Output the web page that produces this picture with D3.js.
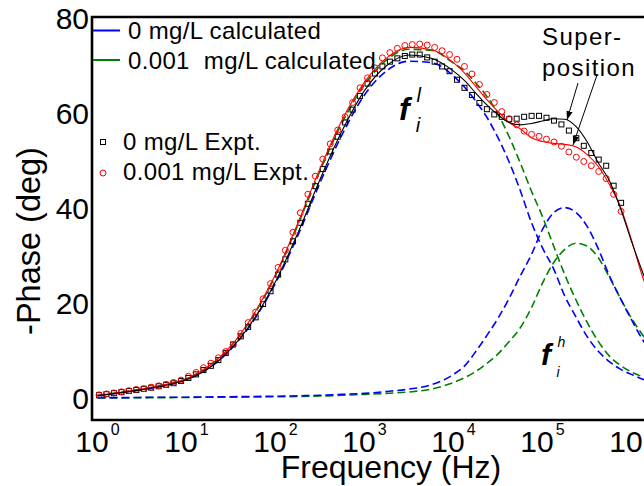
<!DOCTYPE html>
<html>
<head>
<meta charset="utf-8">
<script src="https://cdn.jsdelivr.net/npm/d3@7"></script>
<style>
  body { margin: 0; background: #fff; }
  svg { display: block; }
  text { font-family: "Liberation Sans", Arial, sans-serif; fill: #000; }
</style>
</head>
<body>
<svg id="chart" width="644" height="486"></svg>
<script>
// ---- measured phase spectra (Hz, -phase in degrees) ----
const exptFreqHz = [
  1.04, 1.26, 1.53, 1.86, 2.25, 2.73, 3.31, 4.01, 4.87, 5.90, 7.16, 8.69,
  10.5, 12.8, 15.5, 18.8, 22.8, 27.6, 33.5, 40.7, 49.3, 59.8, 72.5, 88.0,
  107, 129, 157, 190, 231, 280, 340, 412, 500, 606, 735, 891,
  1081, 1311, 1590, 1929, 2339, 2837, 3441, 4173, 5061, 6138, 7444, 9029,
  10950, 13280, 16110, 19540, 23700, 28730, 34850, 42270, 51270, 62180, 75410, 91460,
  110900, 134500, 163200, 197900, 240000, 291100, 353000, 428200, 519300, 629900, 763800
];
const phase0Expt = [
  0.62, 0.83, 1.05, 1.27, 1.5, 1.71, 1.96, 2.2, 2.5, 2.8, 3.14, 3.6,
  4.25, 5.0, 5.9, 6.8, 8.0, 9.5, 11.3, 13.0, 15.0, 17.0, 19.8, 22.5,
  26.0, 29.2, 33.0, 36.9, 40.9, 44.6, 48.2, 51.9, 55.0, 58.0, 60.7, 63.6,
  66.2, 68.3, 69.8, 70.8, 71.5, 72.0, 72.3, 72.3, 71.7, 70.8, 69.8, 68.8,
  67.0, 65.3, 63.8, 62.1, 60.8, 59.7, 59.2, 58.7, 58.8, 59.2, 59.4, 59.4,
  59.0, 58.4, 57.6, 56.3, 54.7, 53.1, 51.6, 50.2, 48.9, 44.7, 41.1
];
const phase001Expt = [
  0.7, 0.9, 1.1, 1.33, 1.57, 1.85, 2.0, 2.3, 2.6, 2.9, 3.3, 3.8,
  4.6, 5.4, 6.4, 7.35, 8.5, 9.8, 11.3, 13.6, 15.9, 18.1, 20.9, 24.1,
  27.5, 31.1, 34.9, 39.0, 42.9, 46.7, 50.3, 53.5, 56.4, 59.2, 62.2, 65.3,
  67.4, 69.5, 71.6, 72.7, 73.6, 74.2, 74.4, 74.5, 74.3, 73.8, 73.1, 72.3,
  71.3, 69.8, 68.2, 66.0, 63.9, 62.2, 60.3, 58.8, 57.5, 56.2, 55.5, 55.1,
  54.5, 53.9, 53.0, 51.8, 50.7, 49.8, 48.9, 47.7, 46.2, 42.9, 39.3
];

// ---- calculated relaxations and their superposition ----
const calcFreqHz = [
  1, 1.78, 3.16, 5.62, 10, 17.8, 31.6, 56.2, 100, 178, 316, 562,
  1000, 1778, 3162, 5623, 10000, 13335, 17783, 23714, 31623, 42170, 56234, 74989,
  100000, 133352, 177828, 237137, 316228, 421697, 562341, 749894, 1000000, 1333521, 1778279
];
const low0Calc = [
  0.5, 1.1, 1.8, 2.6, 3.9, 6.3, 10.3, 16.2, 24.2, 34.2, 45.3, 55.5,
  63.8, 68.9, 70.9, 70.6, 67.8, 65.4, 62.5, 59.1, 54.8, 49.7, 43.7, 37.0,
  31.6, 27.2, 21.5, 17.1, 13.0, 9.9, 7.7, 6.1, 5.0, 4.0, 3.3
];
const low001Calc = [
  0.6, 1.2, 1.9, 2.8, 4.1, 6.7, 10.9, 17.3, 25.8, 36.4, 47.8, 58.0,
  66.0, 71.2, 73.4, 73.2, 70.5, 68.8, 66.3, 63.5, 59.8, 55.0, 49.5, 43.6,
  38.2, 32.0, 26.0, 20.7, 16.0, 12.0, 8.9, 6.9, 5.5, 4.5, 3.8
];
const high0Calc = [
  0.1, 0.1, 0.15, 0.2, 0.2, 0.25, 0.3, 0.35, 0.4, 0.5, 0.6, 0.8,
  1.0, 1.4, 1.9, 2.8, 5.0, 6.8, 9.8, 13.2, 16.8, 21.0, 25.7, 30.2,
  35.5, 39.0, 40.1, 39.1, 36.2, 31.5, 25.8, 21.0, 16.5, 12.3, 9.0
];
const high001Calc = [
  0.05, 0.05, 0.1, 0.1, 0.15, 0.2, 0.2, 0.25, 0.3, 0.35, 0.45, 0.6,
  0.8, 1.0, 1.3, 1.9, 3.3, 4.3, 5.6, 7.3, 9.3, 11.9, 14.8, 19.0,
  24.2, 28.5, 31.3, 32.6, 32.0, 29.6, 25.5, 21.0, 16.8, 13.3, 10.3
];
const super0Calc = [
  0.5, 1.1, 1.8, 2.6, 3.9, 6.3, 10.4, 16.4, 24.5, 34.7, 46.0, 56.3,
  64.7, 70.0, 72.2, 71.5, 68.8, 66.8, 64.2, 61.7, 59.6, 58.0, 57.5, 57.8,
  58.3, 58.8, 58.7, 57.2, 54.0, 49.6, 45.8, 40.0, 33.0, 26.5, 20.5
];
const super001Calc = [
  0.6, 1.2, 1.9, 2.8, 4.1, 6.7, 11.0, 17.5, 26.0, 36.8, 48.3, 58.6,
  66.5, 71.6, 73.8, 73.3, 70.6, 68.4, 65.6, 62.8, 60.3, 58.0, 56.7, 54.8,
  54.0, 53.6, 53.4, 52.9, 51.3, 48.8, 45.0, 40.3, 33.3, 25.5, 19.5
];

// ---- axis ticks ----
const yTickValues = [0, 20, 40, 60, 80];
const xTickExponents = [0, 1, 2, 3, 4, 5, 6];

const BLUE = "#0000ff", GREEN = "#008000", RED = "#ff0000", BLACK = "#000000";

const svg = d3.select("#chart");
const frame = { left: 92, top: 17, right: 700, bottom: 420 };

const x = d3.scaleLog().domain([1, 1e6]).range([97.5, 631.5]);
const y = d3.scaleLinear().domain([-4.6, 80.2]).range([frame.bottom, frame.top]);

const defs = svg.append("defs");
defs.append("clipPath").attr("id", "plotClip")
  .append("rect")
  .attr("x", frame.left).attr("y", frame.top)
  .attr("width", frame.right - frame.left).attr("height", frame.bottom - frame.top);

const marker = defs.append("marker")
  .attr("id", "arrowHead")
  .attr("viewBox", "0 0 10 10")
  .attr("refX", 10).attr("refY", 5)
  .attr("markerWidth", 9).attr("markerHeight", 9)
  .attr("markerUnits", "userSpaceOnUse")
  .attr("orient", "auto");
marker.append("path").attr("d", "M0,1.5 L10,5 L0,8.5 Z").attr("fill", BLACK);

const plot = svg.append("g").attr("clip-path", "url(#plotClip)");

const pairs = (freqs, vals) => freqs.map((f, i) => [f, vals[i]]);
const line = d3.line()
  .x(d => x(d[0]))
  .y(d => y(d[1]))
  .curve(d3.curveMonotoneX);

// dashed calculated components
[[high001Calc, GREEN], [high0Calc, BLUE], [low001Calc, GREEN], [low0Calc, BLUE]].forEach(([vals, col]) => {
  plot.append("path")
    .datum(pairs(calcFreqHz, vals))
    .attr("d", line)
    .attr("fill", "none")
    .attr("stroke", col)
    .attr("stroke-width", 1.6)
    .attr("stroke-dasharray", "8,4");
});

// experimental markers
plot.append("g").selectAll("rect")
  .data(pairs(exptFreqHz, phase0Expt))
  .join("rect")
  .attr("x", d => x(d[0]) - 2.5)
  .attr("y", d => y(d[1]) - 2.5)
  .attr("width", 5).attr("height", 5)
  .attr("fill", "none")
  .attr("stroke", BLACK)
  .attr("stroke-width", 1);

plot.append("g").selectAll("circle")
  .data(pairs(exptFreqHz, phase001Expt))
  .join("circle")
  .attr("cx", d => x(d[0]))
  .attr("cy", d => y(d[1]))
  .attr("r", 3)
  .attr("fill", "none")
  .attr("stroke", RED)
  .attr("stroke-width", 1);

// superposition curves
[[super001Calc, RED], [super0Calc, BLACK]].forEach(([vals, col]) => {
  plot.append("path")
    .datum(pairs(calcFreqHz, vals))
    .attr("d", line)
    .attr("fill", "none")
    .attr("stroke", col)
    .attr("stroke-width", 1.1);
});

// frame (open on the right)
svg.append("path")
  .attr("d", `M${frame.right},${frame.top} H${frame.left} V${frame.bottom} H${frame.right}`)
  .attr("fill", "none")
  .attr("stroke", BLACK)
  .attr("stroke-width", 2.6);

// y tick labels
svg.append("g").selectAll("text")
  .data(yTickValues)
  .join("text")
  .attr("x", 89)
  .attr("y", d => y(d) + 11)
  .attr("text-anchor", "end")
  .attr("font-size", 30)
  .text(d => d);

// x tick labels: 10^n
const xLab = svg.append("g").selectAll("text")
  .data(xTickExponents)
  .join("text")
  .attr("x", d => x(Math.pow(10, d)))
  .attr("y", 452)
  .attr("text-anchor", "middle")
  .attr("font-size", 30);
xLab.append("tspan").text("10");
xLab.append("tspan").attr("dy", -17).attr("dx", 2).attr("font-size", 16).text(d => d);

// axis titles
svg.append("text")
  .attr("x", 391).attr("y", 478)
  .attr("text-anchor", "middle")
  .attr("font-size", 32)
  .text("Frequency (Hz)");

svg.append("text")
  .attr("transform", "translate(40,241) rotate(-90)")
  .attr("text-anchor", "middle")
  .attr("font-size", 32.5)
  .text("-Phase (deg)");

// legend
const legendLines = [
  { label: "0 mg/L calculated", color: BLUE, y: 30.5 },
  { label: "0.001\u00a0 mg/L calculated", color: GREEN, y: 60 }
];
legendLines.forEach(d => {
  svg.append("line")
    .attr("x1", 93).attr("x2", 120)
    .attr("y1", d.y).attr("y2", d.y)
    .attr("stroke", d.color).attr("stroke-width", 2);
  svg.append("text")
    .attr("x", 128).attr("y", d.y + 8.5)
    .attr("font-size", 24)
    .attr("letter-spacing", 0.35)
    .text(d.label);
});

svg.append("rect")
  .attr("x", 100.5).attr("y", 139.5).attr("width", 5).attr("height", 5)
  .attr("fill", "none").attr("stroke", BLACK).attr("stroke-width", 1);
svg.append("text")
  .attr("x", 123).attr("y", 150)
  .attr("font-size", 24).attr("letter-spacing", 0.35)
  .text("0 mg/L Expt.");
svg.append("circle")
  .attr("cx", 103).attr("cy", 173).attr("r", 3)
  .attr("fill", "none").attr("stroke", RED).attr("stroke-width", 1);
svg.append("text")
  .attr("x", 123).attr("y", 180)
  .attr("font-size", 24).attr("letter-spacing", 0.35)
  .text("0.001 mg/L Expt.");

// annotations
svg.append("text")
  .attr("x", 542).attr("y", 45)
  .attr("font-size", 24).attr("letter-spacing", 1.4)
  .text("Super-");
svg.append("text")
  .attr("x", 542).attr("y", 76)
  .attr("font-size", 24).attr("letter-spacing", 1.4)
  .text("position");

svg.append("line")
  .attr("x1", 578).attr("y1", 83).attr("x2", 567).attr("y2", 120)
  .attr("stroke", BLACK).attr("stroke-width", 1)
  .attr("marker-end", "url(#arrowHead)");
svg.append("line")
  .attr("x1", 597).attr("y1", 75).attr("x2", 573).attr("y2", 145)
  .attr("stroke", BLACK).attr("stroke-width", 1)
  .attr("marker-end", "url(#arrowHead)");

function fLabel(xf, yb, fSize, sup, supSize, supY, subY) {
  svg.append("text")
    .attr("x", xf).attr("y", yb)
    .attr("font-size", fSize)
    .attr("font-style", "italic").attr("font-weight", "bold")
    .text("f");
  svg.append("text")
    .attr("x", xf + fSize * 0.55).attr("y", supY)
    .attr("font-size", supSize).attr("font-style", "italic")
    .text(sup);
  svg.append("text")
    .attr("x", xf + fSize * 0.52).attr("y", subY)
    .attr("font-size", supSize).attr("font-style", "italic")
    .text("i");
}
fLabel(399, 120, 32, "l", 20, 102, 132);
fLabel(541, 365, 30, "h", 14, 347, 377);
</script>
</body>
</html>
